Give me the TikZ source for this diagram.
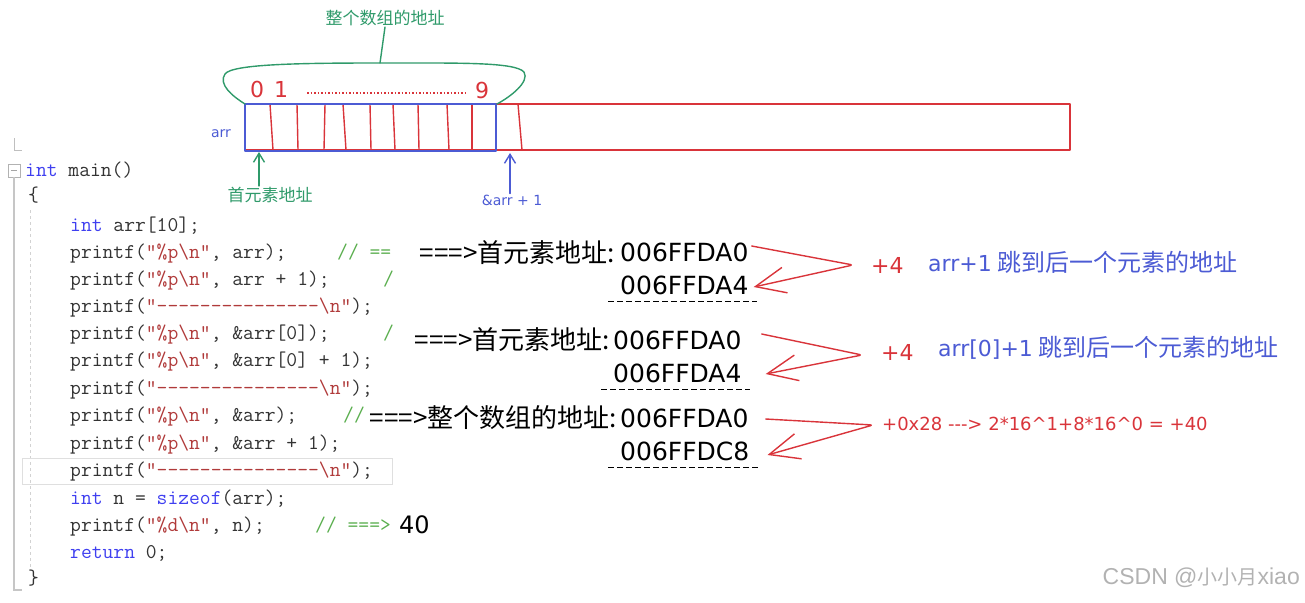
\documentclass[tikz,border=0pt]{standalone}
\usepackage{fontspec}
\usetikzlibrary{arrows.meta,positioning,calc}
\newfontfamily\cjk{Noto Sans CJK SC}
\newfontfamily\hand{DejaVu Sans}
\newfontfamily\wmfont{Liberation Sans}
\definecolor{SkRed}{HTML}{D9343A}
\definecolor{SkBlue}{HTML}{4C5BD4}
\definecolor{SkGreen}{HTML}{2F9A6A}
\definecolor{KwBlue}{HTML}{3F3FF0}
\definecolor{StrRed}{HTML}{B03A3A}
\definecolor{CmGreen}{HTML}{5AAE4E}
\definecolor{CodeGray}{HTML}{333333}
\newcommand\kw[1]{\textcolor{KwBlue}{#1}}
\newcommand\strc[1]{\textcolor{StrRed}{#1}}
\newcommand\bsl{\textbackslash}
\newcommand\dsh{-{}-{}-{}-{}-{}-{}-{}-{}-{}-{}-{}-{}-{}-{}-}

\begin{document}
\begin{tikzpicture}[x=1pt,y=-1pt,
    skline/.style={line width=1.4pt,line cap=round,line join=round},
    redarr/.style={skline,SkRed,rounded corners=3pt,-{Straight Barb[length=30pt,width=26pt]}},
    uparr/.style={skline,-{Straight Barb[length=9pt,width=11pt]}},
    code/.style={anchor=base west,inner sep=0pt,font=\fontsize{21}{24}\ttfamily,text=CodeGray},
    cmt/.style={code,text=CmGreen},
    lab/.style={anchor=east,inner sep=0pt,font=\fontsize{26}{30}\cjk},
    addr/.style={anchor=west,inner sep=0pt,font=\fontsize{25}{28}\hand},
    note/.style={anchor=west,inner sep=0pt,font=\fontsize{24}{28}\cjk,text=SkBlue}]
  \useasboundingbox (0,0) rectangle (1305,602);

  % editor margin
  \draw[gray!50,line width=1pt] (14,138) -- (14,150) -- (22,150);
  \draw[gray!60,line width=0.8pt] (8,164) rectangle (20,177);
  \draw[gray!70,line width=1pt] (11,170.5) -- (17,170.5);
  \draw[gray!45,line width=1.5pt] (14,177) -- (14,590) -- (22,590);
  \draw[gray!35,dashed,line width=0.8pt] (30,210) -- (30,570);
  \draw[gray!25,line width=1pt] (22,458) rectangle (392,484);

  % code
  \node[code] (mainln) at (25,176) {\kw{int} main()};
  \node[code] (lbr) at (28,201) {\{};
  \node[code] (l1) at (70,231) {\kw{int} arr[10];};
  \node[code] (l2) at (70,258) {printf(\strc{"\%p\bsl n"}, arr);};
  \node[code] (l3) at (70,285) {printf(\strc{"\%p\bsl n"}, arr + 1);};
  \node[code] (l4) at (70,312) {printf(\strc{"\dsh\bsl n"});};
  \node[code] (l5) at (70,339) {printf(\strc{"\%p\bsl n"}, \&arr[0]);};
  \node[code] (l6) at (70,366) {printf(\strc{"\%p\bsl n"}, \&arr[0] + 1);};
  \node[code] (l7) at (70,394) {printf(\strc{"\dsh\bsl n"});};
  \node[code] (l8) at (70,421) {printf(\strc{"\%p\bsl n"}, \&arr);};
  \node[code] (l9) at (70,449) {printf(\strc{"\%p\bsl n"}, \&arr + 1);};
  \node[code] (l10) at (70,476) {printf(\strc{"\dsh\bsl n"});};
  \node[code] (l11) at (70,504) {\kw{int} n = \kw{sizeof}(arr);};
  \node[code] (l12) at (70,531) {printf(\strc{"\%d\bsl n"}, n);};
  \node[code] (l13) at (70,558) {\kw{return} 0;};
  \node[code] (rbr) at (28,584) {\}};
  \node[cmt] (c2) at (337,258) {// ==};
  \node[cmt] (c3) at (383,285) {/};
  \node[cmt] (c5) at (383,339) {/};
  \node[cmt] (c8) at (343,421) {//};
  \node[cmt] (c12) at (315,531) {// ===>};
  \node[anchor=west,inner sep=0pt,font=\fontsize{24}{28}\hand] (forty) at (399,525) {40};

  % array sketch
  \draw[SkRed,skline] (245,104) rectangle (1070,150);
  \foreach \xt/\xb in {270/273,297/298,325/324,343/346,370/371,393/395,418/419,447/449,472/472,518/522}
    \draw[SkRed,skline] (\xt,104) -- (\xb,150);
  \draw[SkBlue,skline] (245,104) rectangle (496,151);
  \node[font=\fontsize{22}{24}\hand,text=SkRed,inner sep=0pt] (d0) at (257,89) {0};
  \node[font=\fontsize{22}{24}\hand,text=SkRed,inner sep=0pt] (d1) at (281,89) {1};
  \node[font=\fontsize{22}{24}\hand,text=SkRed,inner sep=0pt] (d9) at (482,90) {9};
  \draw[SkRed,line width=1.6pt,dash pattern=on 1.5pt off 2pt] (307,93) -- (466,93);
  \node[font=\fontsize{14}{16}\hand,text=SkBlue,inner sep=0pt] (arrlbl) at (221,134) {arr};

  % whole array brace
  \coordinate (bpeak) at (380,63);
  \node[font=\fontsize{17}{20}\cjk,text=SkGreen,inner sep=1pt] (wholelbl) at (385,18) {整个数组的地址};
  \draw[SkGreen,skline] (245,104) .. controls (232,96) and (218,84) .. (225,74)
    .. controls (232,64) and (300,63) .. (bpeak)
    .. controls (460,63) and (515,62) .. (524,72)
    .. controls (530,82) and (510,97) .. (497,104);
  \draw[SkGreen,skline] (bpeak) -- (wholelbl.south);

  % first element / next array
  \coordinate (firstcell) at (259,152);
  \coordinate (nextcell) at (510,153);
  \node[font=\fontsize{17}{20}\cjk,text=SkGreen,inner sep=1pt] (firstlbl) at (270,195) {首元素地址};
  \node[font=\fontsize{14}{16}\hand,text=SkBlue,inner sep=1pt] (nextlbl) at (512,200) {\&arr + 1};
  \draw[uparr,SkGreen] (firstlbl.north -| firstcell) -- (firstcell);
  \draw[uparr,SkBlue] (nextlbl.north -| nextcell) -- (nextcell);

  % printed addresses
  \node[lab] (r1) at (615,253) {===>首元素地址:};
  \node[addr] (a1) at (620,252) {006FFDA0};
  \node[addr] (a2) at (620,285) {006FFDA4};
  \node[lab] (r2) at (610,340) {===>首元素地址:};
  \node[addr] (a3) at (613,340) {006FFDA0};
  \node[addr] (a4) at (613,373) {006FFDA4};
  \node[lab] (r3) at (617,418) {===>整个数组的地址:};
  \node[addr] (a5) at (620,418) {006FFDA0};
  \node[addr] (a6) at (620,451) {006FFDC8};
  \foreach \n in {a2,a4,a6}
    \draw[line width=1pt,dash pattern=on 6pt off 3pt] ($(\n.south west)+(-12,7)$) -- ($(\n.south east)+(8,7)$);

  % offsets
  \coordinate (t1) at (853,265);
  \coordinate (t2) at (862,355);
  \coordinate (t3) at (873,425);
  \draw[redarr] ($(a1.east)+(3,-6)$) -- (t1) -- ($(a2.east)+(5,2)$);
  \draw[redarr] ($(a3.east)+(20,-6)$) -- (t2) -- ($(a4.east)+(24,1)$);
  \draw[redarr] ($(a5.east)+(17,1)$) -- (t3) -- ($(a6.east)+(18,4)$);
  \node[anchor=west,inner sep=0pt,font=\fontsize{22}{24}\hand,text=SkRed] (p1) at (871,265) {+4};
  \node[anchor=west,inner sep=0pt,font=\fontsize{22}{24}\hand,text=SkRed] (p2) at (881,352) {+4};
  \node[note] (n1) at (928,262) {{\hand\fontsize{22}{26}\selectfont arr+1} 跳到后一个元素的地址};
  \node[note] (n2) at (938,348) {{\hand\fontsize{22}{26}\selectfont arr[0]+1} 跳到后一个元素的地址};
  \node[anchor=west,inner sep=0pt,font=\fontsize{18}{20}\hand,text=SkRed] (p3) at (882,424)
    {+0x28 -{}-{}-> 2*16\textasciicircum 1+8*16\textasciicircum 0 = +40};

  % watermark
  \node[anchor=east,inner sep=0pt,text=gray!60] (wm) at (1300,578)
    {\fontsize{23}{26}\wmfont CSDN @\cjk\fontsize{20}{24}\selectfont 小小月\wmfont\fontsize{23}{26}\selectfont xiao};
\end{tikzpicture}
\end{document}
